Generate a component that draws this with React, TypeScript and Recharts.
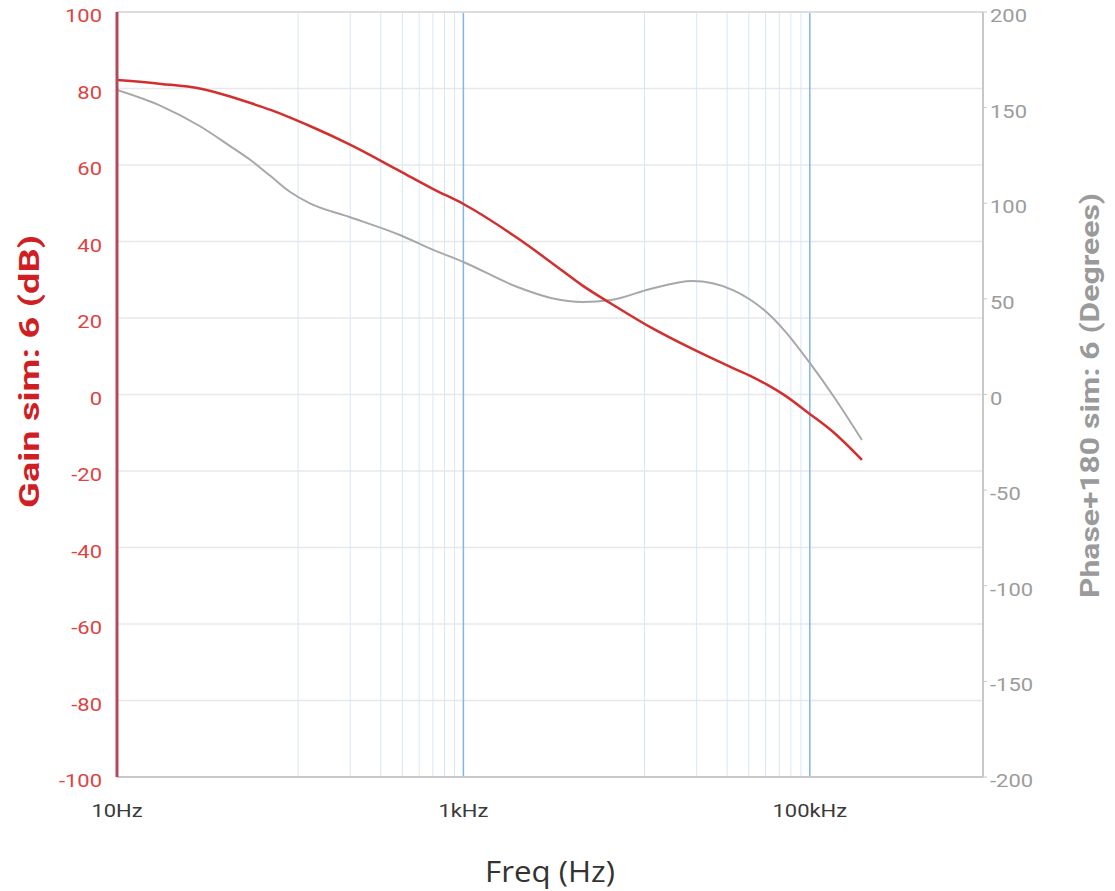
import { ComposedChart, Line, XAxis, YAxis, CartesianGrid, ReferenceLine } from "recharts";

const freqHz = [10, 18, 30, 45, 59, 77, 100, 130, 220, 430, 670, 1000, 2050, 3200, 4900, 7100, 12000, 21000, 36000, 45600, 57000, 71000, 100000, 138000, 200000];
const gainDb = [82.2, 81.2, 80.0, 77.9, 76.2, 74.4, 72.4, 70.2, 65.4, 58.4, 53.7, 49.8, 40.9, 34.6, 28.4, 23.8, 17.6, 11.9, 6.9, 4.8, 2.5, -0.1, -5.1, -10.0, -17.1];
const phaseDeg = [159.2, 150.8, 140.4, 129.9, 122.6, 114.2, 105.9, 99.9, 92.8, 83.4, 75.6, 69.3, 56.2, 50.5, 48.4, 49.4, 55.2, 59.3, 54.6, 49.4, 42.6, 33.7, 16.5, -1.3, -23.8];

const freqTicks = [10, 1000, 100000];
const gainTicks = [-100, -80, -60, -40, -20, 0, 20, 40, 60, 80, 100];
const phaseTicks = [-200, -150, -100, -50, 0, 50, 100, 150, 200];
// faint grid lines the original tool draws between labelled decades
const minorGrid = [1000, 100000].flatMap((d) => [1, 2, 3, 4, 5, 6, 7, 8].map((k) => (d * k) / 9));

const data = freqHz.map((f, i) => ({ f, gain: gainDb[i], phase: phaseDeg[i] }));

const fmtFreq = (v: number) => (v >= 1000 ? `${v / 1000}kHz` : `${v}Hz`);

// the source picture is stretched sideways, so tick text gets a horizontal scale
const makeTick = (fill: string, anchor: "start" | "middle" | "end", fmt: ((v: number) => string) | null, dy: number) =>
  (props: any) => {
    const { x, y, payload } = props;
    const txt = fmt ? fmt(payload.value) : String(payload.value);
    return (
      <g transform={`translate(${x},${y})`}>
        <text transform="scale(1.22,1)" textAnchor={anchor} dy={dy} fill={fill} fontSize={18} fontFamily="Roboto">
          {txt}
        </text>
      </g>
    );
  };

const GainTick = makeTick("#dc4444", "end", null, 10);
const PhaseTick = makeTick("#9c9c9c", "start", null, 10);
const FreqTick = makeTick("#3a3a3a", "middle", fmtFreq, 14);

const GainTitle = (props: any) => {
  const { x, y, height } = props.viewBox;
  const cx = x + 22;
  const cy = y + height / 2 - 23;
  return (
    <text x={cx} y={cy} transform={`rotate(-90 ${cx} ${cy})`} textAnchor="middle" dominantBaseline="central"
      fill="#d01f24" fontFamily="Roboto" fontWeight="bold" fontSize={27} textLength={273} lengthAdjust="spacingAndGlyphs">
      Gain sim: 6 (dB)
    </text>
  );
};

const PhaseTitle = (props: any) => {
  const { x, y, height } = props.viewBox;
  const cx = x + 107;
  const cy = y + height / 2 + 1;
  return (
    <text x={cx} y={cy} transform={`rotate(-90 ${cx} ${cy})`} textAnchor="middle" dominantBaseline="central"
      fill="#9a9a9a" fontFamily="Roboto" fontWeight="bold" fontSize={26} textLength={405} lengthAdjust="spacingAndGlyphs">
      Phase+180 sim: 6 (Degrees)
    </text>
  );
};

const FreqTitle = (props: any) => {
  const { x, y, width } = props.viewBox;
  return (
    <text x={x + width / 2} y={y + 93} textAnchor="middle" dominantBaseline="central"
      fill="#333" fontFamily="Open Sans" fontSize={29} textLength={130} lengthAdjust="spacingAndGlyphs">
      Freq (Hz)
    </text>
  );
};

export default function App() {
  return (
    <div style={{ width: 1100, height: 889, marginTop: -6 }}>
      <ComposedChart width={1100} height={889} data={data} margin={{ top: 10, right: 0, bottom: 0, left: 0 }}>
        <CartesianGrid yAxisId="gain" vertical={false} stroke="#e8e8e8" strokeWidth={1.5} />
        {minorGrid.map((v) => (
          <ReferenceLine key={v} x={v} yAxisId="gain" stroke="#d8e7f8" strokeWidth={1} />
        ))}
        {freqTicks.slice(1).map((v) => (
          <ReferenceLine key={`m${v}`} x={v} yAxisId="gain" stroke="#82b4ec" strokeWidth={1.5} />
        ))}
        <ReferenceLine y={100} yAxisId="gain" stroke="#dddddd" strokeWidth={2} />
        <XAxis
          dataKey="f"
          type="number"
          scale="log"
          domain={[10, 1000000]}
          ticks={freqTicks}
          allowDataOverflow
          height={114}
          axisLine={{ stroke: "#c8c8c8", strokeWidth: 2 }}
          tickLine={false}
          tickSize={6}
          tickMargin={20}
          tick={FreqTick}
          label={{ content: FreqTitle }}
        />
        <YAxis
          yAxisId="gain"
          orientation="left"
          domain={[-100, 100]}
          ticks={gainTicks}
          width={109}
          axisLine={{ stroke: "#b5485e", strokeWidth: 3 }}
          tickLine={false}
          tickSize={5}
          tickMargin={10}
          tick={GainTick}
          label={{ content: GainTitle }}
        />
        <YAxis
          yAxisId="phase"
          orientation="right"
          domain={[-200, 200]}
          ticks={phaseTicks}
          width={125}
          axisLine={{ stroke: "#c8c8c8", strokeWidth: 2 }}
          tickLine={{ stroke: "#c8c8c8" }}
          tickSize={4}
          tickMargin={3}
          tick={PhaseTick}
          label={{ content: PhaseTitle }}
        />
        <Line yAxisId="phase" dataKey="phase" type="monotone" stroke="#a8a8a8" strokeWidth={2} dot={false} isAnimationActive={false} />
        <Line yAxisId="gain" dataKey="gain" type="monotone" stroke="#d32f2f" strokeWidth={2.5} dot={false} isAnimationActive={false} />
      </ComposedChart>
    </div>
  );
}
